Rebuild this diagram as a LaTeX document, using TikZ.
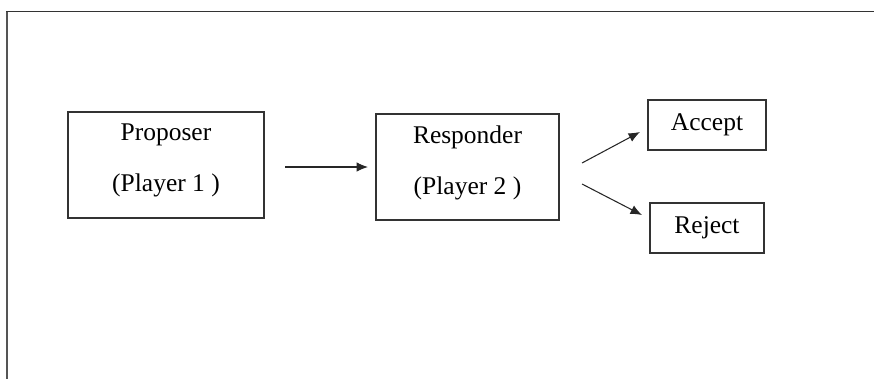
\documentclass[tikz,border=0pt]{standalone}
\usepackage{fontspec}
\setmainfont{Liberation Serif}
\usepackage{tikz}
\usetikzlibrary{arrows.meta, positioning, calc}
\definecolor{framegray}{HTML}{333333}
\definecolor{edgegray}{HTML}{555555}

\tikzset{
  playerbox/.style={draw=framegray, line width=0.8pt, minimum width=3.92cm, minimum height=2.12cm,
    align=center, inner sep=0pt, text depth=8pt, font=\fontsize{14.5}{29}\selectfont},
  choicebox/.style={draw=framegray, line width=0.8pt, minimum width=2.34cm, minimum height=1cm,
    inner sep=0pt, font=\fontsize{14.5}{17}\selectfont},
  move/.style={-{Latex[length=6.5pt, width=5.4pt]}, line width=0.6pt, black!85}
}

\begin{document}
\begin{tikzpicture}[x=0.02cm, y=-0.02cm]
  \useasboundingbox (0,0) rectangle (874,379);
  % open frame: top and left edge only
  \draw[framegray, line width=1pt] (6,11.5) -- (874,11.5);
  \draw[edgegray, line width=1.4pt] (7,11.5) -- (7,379);
  \node[playerbox] (proposer) at (166,165) {Proposer\\(Player 1 )};
  \node[playerbox, minimum width=3.66cm] (responder) at (467.5,167) {Responder\\(Player 2 )};
  \node[choicebox, minimum width=2.36cm] (accept) at (707,125) {Accept};
  \node[choicebox, minimum width=2.28cm] (reject) at (707,228) {Reject};
  % free ends of the moves
  \coordinate (offer0) at (285,167);
  \coordinate (offer1) at (368,167);
  \coordinate (yes0) at (582,163);
  \coordinate (yes1) at (640,132);
  \coordinate (no0) at (582,184);
  \coordinate (no1) at (642,215);
  \draw[move] (offer0) -- (offer1);
  \draw[move] (yes0) -- (yes1);
  \draw[move] (no0) -- (no1);
\end{tikzpicture}
\end{document}
